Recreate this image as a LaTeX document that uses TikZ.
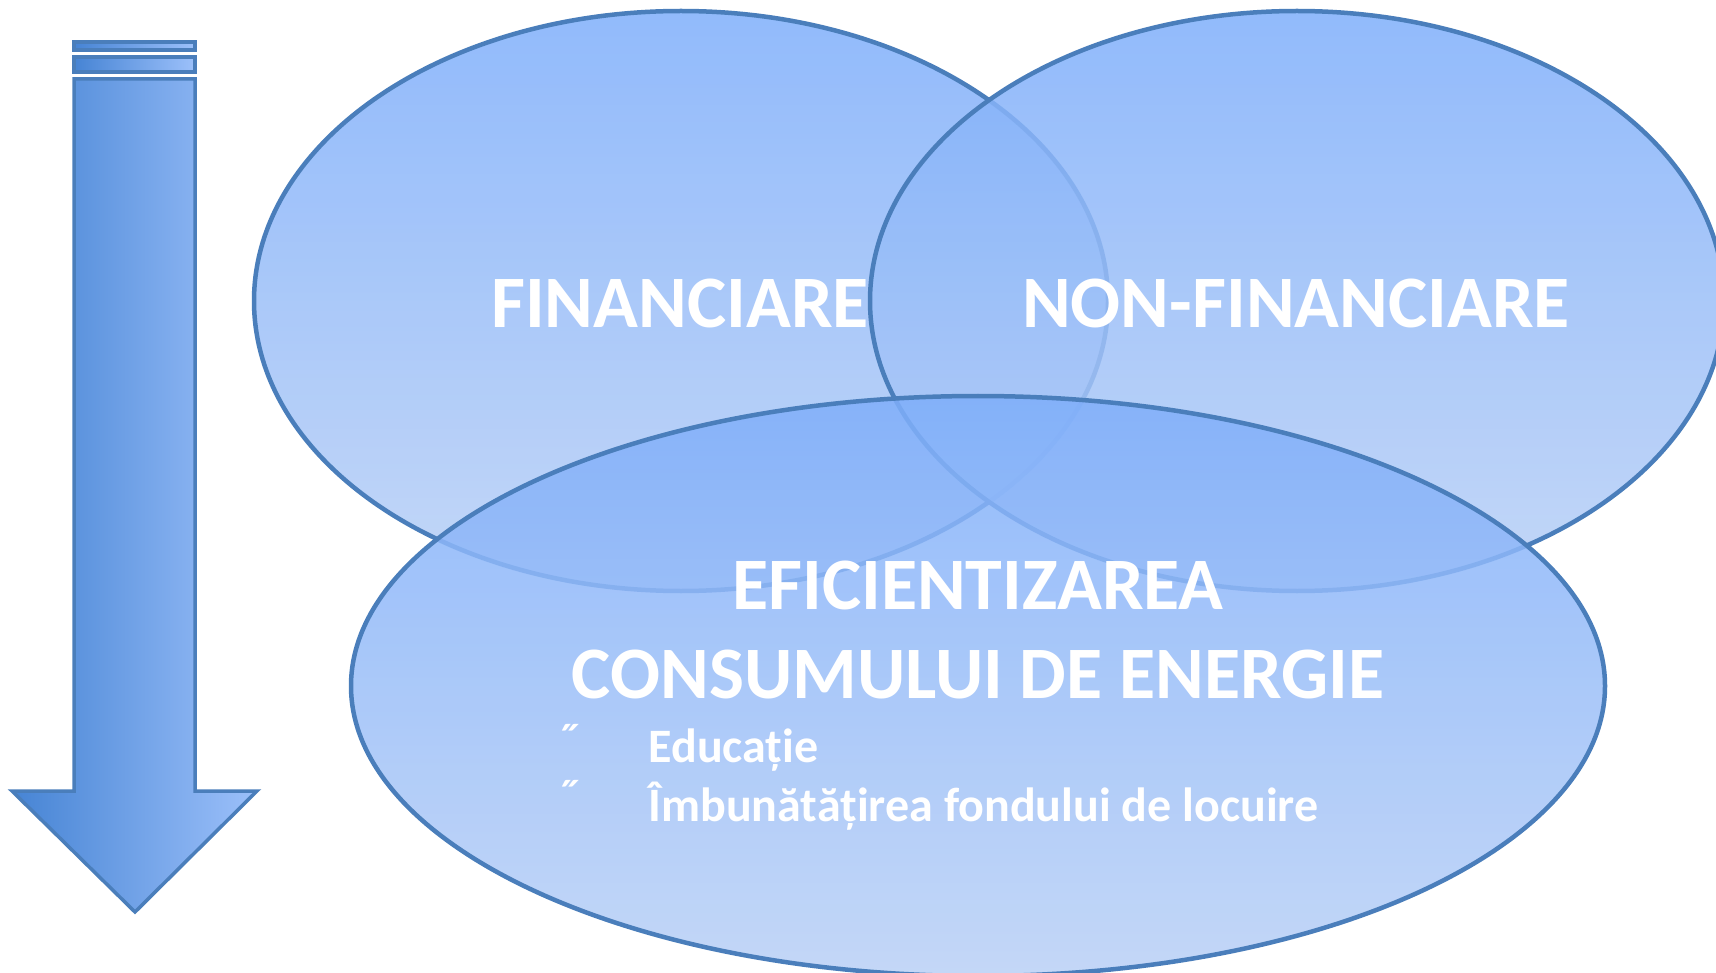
\documentclass[tikz,border=0pt]{standalone}
\usepackage{fontspec}
\setmainfont{Carlito}
\usetikzlibrary{shapes.geometric}
\definecolor{elltop}{RGB}{126,174,250}
\definecolor{ellmid}{RGB}{92,142,224}
\definecolor{ellbot}{RGB}{185,208,246}
\definecolor{edge}{RGB}{74,126,187}
\definecolor{arrl}{RGB}{70,132,212}
\definecolor{arrr}{RGB}{156,192,250}
\tikzset{
  ell/.style={ellipse, draw=edge, line width=4.5pt, inner sep=0pt,
    top color=elltop, middle color=ellmid, bottom color=ellbot, fill opacity=0.85},
  big/.style={text=white, font=\bfseries\fontsize{74}{89}\selectfont, align=center},
  small/.style={text=white, font=\bfseries\fontsize{48}{54}\selectfont, anchor=west},
  arrowpart/.style={draw=edge, line width=3.5pt, left color=arrl, right color=arrr}
}
\begin{document}
\begin{tikzpicture}[x=1pt,y=-1pt]
\useasboundingbox (0,0) rectangle (1716,973);
% arrow
\path[arrowpart] (74,42) rectangle (195,50);
\path[arrowpart] (74,57) rectangle (195,72);
\path[arrowpart] (74,79) -- (195,79) -- (195,791) -- (257,791) -- (135,912) -- (12,791) -- (74,791) -- cycle;
% ellipses
\node[ell, minimum width=854pt, minimum height=580pt] (fin) at (681,301) {};
\node[ell, minimum width=854pt, minimum height=580pt] (nonfin) at (1297,301) {};
\node[ell, minimum width=1254pt, minimum height=580pt] (efi) at (978,686) {};
% texts
\node[big] (tfin) at (680,303) {FINANCIARE};
\node[big] (tnon) at (1296,303) {NON-FINANCIARE};
\node[big] (tefi) at (978,630) {EFICIENTIZAREA\\CONSUMULUI DE ENERGIE};
\node[small] (b1) at (553,741) {˝};
\node[small] (b2) at (553,797) {˝};
\node[small] (l1) at (645,750) {Educație};
\node[small] (l2) at (645,806) {Îmbunătățirea fondului de locuire};
\end{tikzpicture}
\end{document}
